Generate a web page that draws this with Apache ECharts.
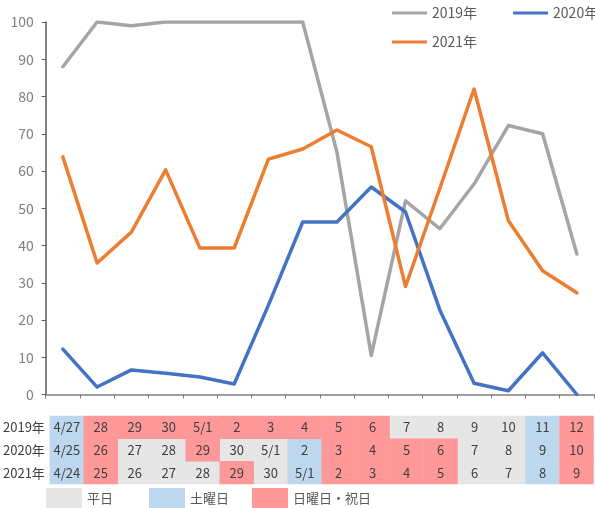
<!DOCTYPE html>
<html>
<head>
<meta charset="utf-8">
<script src="https://cdn.jsdelivr.net/npm/echarts@6/dist/echarts.min.js"></script>
<style>
  html, body { margin: 0; padding: 0; background: #fff; }
  #chart { width: 595px; height: 508px; }
</style>
</head>
<body>
<div id="chart"></div>
<script>
var years = ["2019年", "2020年", "2021年"];
var rate2019 = [88, 100, 99, 100, 100, 100, 100, 100, 65, 10.5, 52, 44.5, 56.5, 72.2, 70, 37.7];
var rate2020 = [12.2, 2, 6.6, 5.7, 4.7, 2.8, 24, 46.3, 46.3, 55.7, 49, 22.7, 3, 1, 11.2, 0];
var rate2021 = [63.8, 35.3, 43.6, 60.3, 39.3, 39.3, 63.2, 65.9, 71, 66.5, 29, 55.3, 82, 46.7, 33.2, 27.3];

var days2019 = ["4/27", "28", "29", "30", "5/1", "2", "3", "4", "5", "6", "7", "8", "9", "10", "11", "12"];
var days2020 = ["4/25", "26", "27", "28", "29", "30", "5/1", "2", "3", "4", "5", "6", "7", "8", "9", "10"];
var days2021 = ["4/24", "25", "26", "27", "28", "29", "30", "5/1", "2", "3", "4", "5", "6", "7", "8", "9"];

// 0 平日, 1 土曜日, 2 日曜日・祝日
var kind2019 = [1, 2, 2, 2, 2, 2, 2, 2, 2, 2, 0, 0, 0, 0, 1, 2];
var kind2020 = [1, 2, 0, 0, 2, 0, 0, 1, 2, 2, 2, 2, 0, 0, 1, 2];
var kind2021 = [1, 2, 0, 0, 0, 2, 0, 1, 2, 2, 2, 2, 0, 0, 1, 2];
var dayTypes = ["平日", "土曜日", "日曜日・祝日"];
var dayColors = ["#e6e6e6", "#bdd7ee", "#ff9999"];
var lineColors = ["#a5a5a5", "#4472c4", "#ed7d31"];

var font = "'Noto Sans CJK JP', 'Noto Sans', sans-serif";
var allDays = [days2019, days2020, days2021];
var allKinds = [kind2019, kind2020, kind2021];

function buildCells(type) {
  var cells = [];
  allKinds.forEach(function(row, r) {
    row.forEach(function(k, c) {
      if(k === type) {
        cells.push({name: allDays[r][c], value: [c, r, type]});
      }
    });
  });
  return cells;
}

function buildLine(name, values, color) {
  return {
    name: name,
    type: "line",
    data: values,
    symbol: "none",
    color: color,
    lineStyle: {width: 3.5, color: color, cap: "round", join: "round"},
    emphasis: {disabled: true}
  };
}

function buildHeat(type) {
  return {
    name: dayTypes[type],
    type: "heatmap",
    xAxisIndex: 1,
    yAxisIndex: 1,
    color: dayColors[type],
    itemStyle: {color: dayColors[type]},
    label: {show: true, formatter: "{b}", color: "#404040", fontSize: 13, fontFamily: font},
    emphasis: {disabled: true},
    data: buildCells(type)
  };
}

function dayLegend(type, left) {
  return {
    data: [dayTypes[type]],
    left: left,
    top: 488,
    padding: 0,
    icon: "rect",
    itemWidth: 36,
    itemHeight: 20,
    itemGap: 5,
    selectedMode: false,
    textStyle: {fontSize: 13, color: "#595959", fontFamily: font}
  };
}

var lineLegendStyle = {
  left: 392,
  width: 300,
  padding: 0,
  orient: "horizontal",
  icon: "rect",
  itemWidth: 35,
  itemHeight: 3,
  itemGap: 36,
  selectedMode: false,
  textStyle: {fontSize: 14, color: "#595959", fontFamily: font}
};

var myChart = echarts.init(document.getElementById("chart"));

var options = {
  animation: false,
  textStyle: {fontFamily: font},
  legend: [
    Object.assign({data: ["2019年", "2020年"], top: 6}, lineLegendStyle),
    Object.assign({data: ["2021年"], top: 35}, lineLegendStyle),
    dayLegend(0, 46),
    dayLegend(1, 149),
    dayLegend(2, 252)
  ],
  grid: [
    {left: 45.7, right: 1, top: 22, bottom: 113.5},
    {left: 45.7, right: 1.5, top: 416, height: 68}
  ],
  xAxis: [
    {
      type: "category",
      gridIndex: 0,
      data: days2019,
      boundaryGap: true,
      axisLine: {lineStyle: {color: "#7f7f7f", width: 1.5}},
      axisTick: {show: true, length: 4, lineStyle: {color: "#7f7f7f"}},
      axisLabel: {show: false}
    },
    {
      type: "category",
      gridIndex: 1,
      data: days2019,
      show: false
    }
  ],
  yAxis: [
    {
      type: "value",
      gridIndex: 0,
      min: 0,
      max: 100,
      interval: 10,
      axisLine: {show: true, lineStyle: {color: "#595959", width: 1.5}},
      axisTick: {show: true, length: 4, lineStyle: {color: "#595959"}},
      axisLabel: {fontSize: 14, color: "#7f7f7f", margin: 12, fontFamily: font},
      splitLine: {show: false}
    },
    {
      type: "category",
      gridIndex: 1,
      data: years,
      inverse: true,
      axisLine: {show: false},
      axisTick: {show: false},
      axisLabel: {fontSize: 13, color: "#404040", margin: 5, fontFamily: font}
    }
  ],
  series: [
    buildLine("2019年", rate2019, lineColors[0]),
    buildLine("2020年", rate2020, lineColors[1]),
    buildLine("2021年", rate2021, lineColors[2]),
    buildHeat(0),
    buildHeat(1),
    buildHeat(2)
  ]
};

myChart.setOption(options);
</script>
</body>
</html>
